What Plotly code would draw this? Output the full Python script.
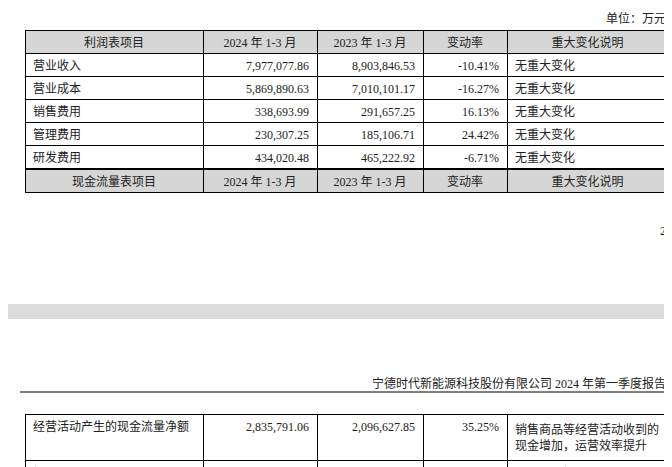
import plotly.graph_objects as go

W, H = 672, 467

header1 = ["利润表项目", "2024 年 1-3 月", "2023 年 1-3 月", "变动率", "重大变化说明"]
items = ["营业收入", "营业成本", "销售费用", "管理费用", "研发费用"]
q1_2024 = ["7,977,077.86", "5,869,890.63", "338,693.99", "230,307.25", "434,020.48"]
q1_2023 = ["8,903,846.53", "7,010,101.17", "291,657.25", "185,106.71", "465,222.92"]
change = ["-10.41%", "-16.27%", "16.13%", "24.42%", "-6.71%"]
notes = ["无重大变化"] * 5
header2 = ["现金流量表项目", "2024 年 1-3 月", "2023 年 1-3 月", "变动率", "重大变化说明"]

cash_items = ["经营活动产生的现金流量净额", "投资活动产生的现金流量净额"]
cash_2024 = ["2,835,791.06", "-790,785.57"]
cash_2023 = ["2,096,627.85", "-580,693.66"]
cash_change = ["35.25%", "36.18%"]
cash_notes = ["销售商品等经营活动收到的<br>现金增加，运营效率提升", "上期收回投资金额较大"]

FONT = "Liberation Serif, Noto Sans CJK SC"
GRAY = "#d6d6d6"
widths = [178, 114, 106, 84, 161]
aligns = ["left", "right", "right", "right", "left"]
x0, x1 = 17 / W, 660 / W
font = dict(family=FONT, size=12, color="#222")

def py(px):
    return 1 - px / H

fig = go.Figure()

fig.add_trace(go.Table(
    domain=dict(x=[x0, x1], y=[py(165), py(22)]),
    columnwidth=widths,
    header=dict(values=header1, fill_color=GRAY, line_color="black", align="center",
                height=23, font=font),
    cells=dict(values=[items, q1_2024, q1_2023, change, notes], fill_color="white",
               line_color="black", align=aligns, height=23, font=font),
))

fig.add_trace(go.Table(
    domain=dict(x=[x0, x1], y=[py(190), py(161)]),
    columnwidth=widths,
    header=dict(values=header2, fill_color=GRAY, line_color="black", align="center",
                height=23, font=font),
    cells=dict(values=[[], [], [], [], []], height=0),
))

fig.add_trace(go.Table(
    domain=dict(x=[x0, x1], y=[0, py(406)]),
    columnwidth=widths,
    header=dict(values=[cash_items[0], cash_2024[0], cash_2023[0], cash_change[0], cash_notes[0]],
                fill_color="white", line_color="black", align=aligns, height=33, font=font),
    cells=dict(values=[[cash_items[1]], [cash_2024[1]], [cash_2023[1]], [cash_change[1]], [cash_notes[1]]],
               fill_color="white", line_color="black", align=aligns, height=23, font=font),
))

fig.add_shape(type="rect", xref="paper", yref="paper", x0=0, x1=1, y0=py(311), y1=py(296),
              fillcolor="#dcdcdc", line_width=0, layer="below")
fig.add_shape(type="line", xref="paper", yref="paper", x0=12 / W, x1=660 / W, y0=py(384), y1=py(384),
              line=dict(color="black", width=1.2))

def note(text, y):
    fig.add_annotation(text=text, xref="paper", yref="paper", x=660 / W, y=py(y),
                       xanchor="right", yanchor="middle", showarrow=False, font=font)

note("单位：万元", 11)
note("2", 223)
note("宁德时代新能源科技股份有限公司 2024 年第一季度报告", 375)

fig.update_layout(width=W, height=H, margin=dict(l=0, r=0, t=0, b=0),
                  paper_bgcolor="white", plot_bgcolor="white")
fig.write_html("out.html")
